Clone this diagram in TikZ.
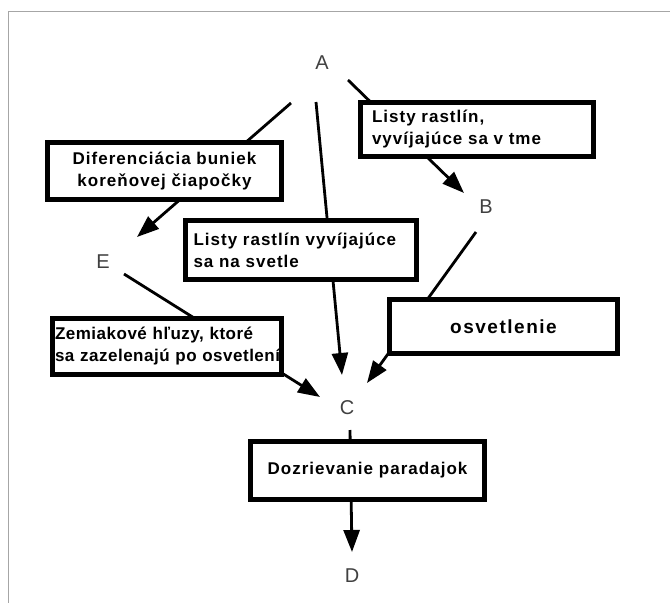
\documentclass[tikz,border=0pt]{standalone}
\usepackage{fontspec}
\setmainfont{Liberation Sans}
\usetikzlibrary{arrows.meta}
\begin{document}
\begin{tikzpicture}[x=1pt,y=-1pt,
  box/.style={draw=black, line width=5pt, fill=white, inner ysep=0pt,
    font=\bfseries\addfontfeature{LetterSpace=6}\fontsize{17}{22}\selectfont},
  lbl/.style={font=\fontsize{20}{24}\selectfont, text=black!75, inner sep=0pt},
  conn/.style={line width=2.8pt, -{Triangle[length=22pt,width=16pt]}},
  frame/.style={draw=black!35, line width=1pt}]
\useasboundingbox (0,0) rectangle (670,603);
\draw[frame] (8,603) -- (8,11) -- (670,11);
% labels
\node[lbl] (A) at (322,63) {A};
\node[lbl] (B) at (486,207) {B};
\node[lbl] (E) at (103,262) {E};
\node[lbl] (C) at (347,408) {C};
\node[lbl] (D) at (352,576) {D};
% connector ends
\coordinate (ae1) at (291,103); \coordinate (ae2) at (137,237);
\coordinate (ac1) at (316,102); \coordinate (ac2) at (342,375);
\coordinate (ab1) at (348,80);  \coordinate (ab2) at (464,193);
\coordinate (bc1) at (476,232); \coordinate (bc2) at (367,383);
\coordinate (ec1) at (124,274); \coordinate (ec2) at (320,397);
\coordinate (cd1) at (350,430); \coordinate (cd2) at (352,552);
\draw[conn] (ae1) -- (ae2);
\draw[conn] (ac1) -- (ac2);
\draw[conn] (ab1) -- (ab2);
\draw[conn] (bc1) -- (bc2);
\draw[conn] (ec1) -- (ec2);
\draw[conn] (cd1) -- (cd2);
% boxes
\node[box, minimum width=234pt, minimum height=57pt, inner xsep=0pt, text width=234pt, align=center]
  (b1) at (164.5,171) {Diferenciácia buniek\\koreňovej čiapočky};
\node[box, minimum height=54pt, inner xsep=11.5pt, text width=210pt, align=left]
  (b2) at (477,129) {Listy rastlín,\\vyvíjajúce sa v tme};
\node[box, minimum height=59pt, inner xsep=8pt, text width=215pt, align=left]
  (b3) at (301,250) {Listy rastlín vyvíjajúce\\sa na svetle};
\node[box, minimum width=228pt, minimum height=54pt, inner xsep=0pt,
  font=\bfseries\addfontfeature{LetterSpace=8}\fontsize{19}{22}\selectfont]
  (b4) at (503.5,326.5) {osvetlenie};
\node[box, minimum height=56pt, inner xsep=2.5pt, text width=224pt, align=left,
  font=\bfseries\addfontfeature{LetterSpace=3}\fontsize{17}{22}\selectfont]
  (b5) at (167,346.5) {\mbox{Zemiakové hľuzy, ktoré}\\\mbox{sa zazelenajú po osvetlení}};
\node[box, minimum width=234pt, minimum height=58pt, inner xsep=0pt]
  (b6) at (367.5,470.5) {Dozrievanie paradajok};
\end{tikzpicture}
\end{document}
